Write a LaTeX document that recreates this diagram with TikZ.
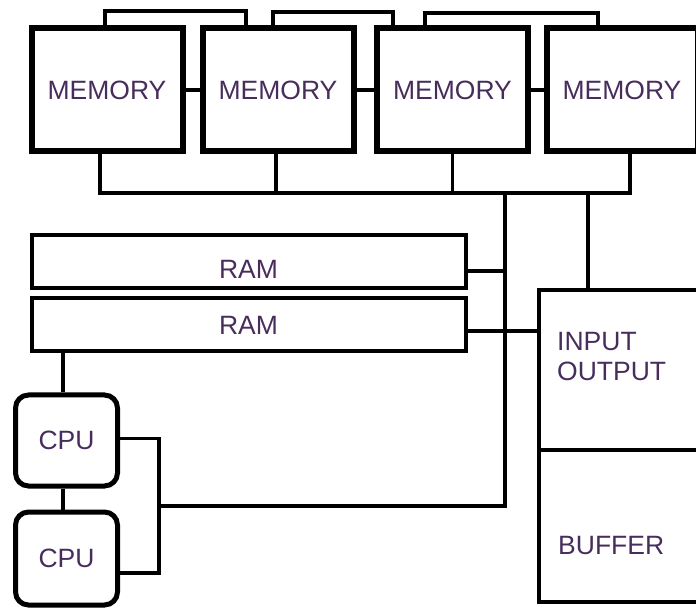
\documentclass[tikz,border=0pt]{standalone}
\usepackage{fontspec}
\setmainfont{Liberation Sans}
\definecolor{txtc}{RGB}{72,45,92}
\begin{document}
\begin{tikzpicture}[x=1pt,y=-1pt,
  txt/.style={text=txtc,font=\fontsize{26.5}{30}\selectfont,inner sep=0pt},
  mem/.style={draw,line width=6pt,minimum width=151pt,minimum height=123pt,inner sep=0pt,txt},
  ram/.style={draw,line width=4pt,minimum width=434pt,minimum height=53pt,inner sep=0pt},
  iob/.style={draw,line width=4pt,minimum width=222pt,inner sep=0pt},
  cpu/.style={draw,line width=5pt,rounded corners=13pt,minimum width=102pt,inner sep=0pt,txt},
  wire/.style={line width=3.5pt}
]
\useasboundingbox (0,0) rectangle (696,609);
% memory boxes
\node[mem] (m1) at (107,90) {MEMORY};
\node[mem] (m2) at (278,90) {MEMORY};
\node[mem] (m3) at (452.5,90) {MEMORY};
\node[mem] (m4) at (622,90) {MEMORY};
% ram boxes
\node[ram] (r1) at (248.5,261.5) {};
\node[txt] at ([yshift=-8pt]r1.center) {RAM};
\node[ram] (r2) at (248.5,325) {};
\node[txt] at (r2.center) {RAM};
% io / buffer
\node[iob,minimum height=160pt] (io) at (650,370) {};
\node[iob,minimum height=152pt] (buf) at (650,526) {};
\node[txt,anchor=west,align=left] at ([xshift=20pt,yshift=13pt]io.west) {INPUT\\OUTPUT};
\node[txt,anchor=west] at ([xshift=21pt,yshift=-20pt]buf.west) {BUFFER};
% cpus
\node[cpu,minimum height=91pt] (c1) at (66.5,440.5) {CPU};
\node[cpu,minimum height=93pt] (c2) at (66.5,558.5) {CPU};

% top brackets
\coordinate (t1) at (0,11);
\coordinate (t2) at (0,12);
\coordinate (t3) at (0,13);
\coordinate (a1) at ([xshift=-2pt]m1.north);
\coordinate (a2) at ([xshift=-32pt]m2.north);
\coordinate (a3) at ([xshift=-5pt]m2.north);
\coordinate (a4) at ([xshift=-59.5pt]m3.north);
\coordinate (a5) at ([xshift=-27.5pt]m3.north);
\coordinate (a6) at ([xshift=-24pt]m4.north);
\draw[wire] (a1) -- (a1|-t1) -- (a2|-t1) -- (a2);
\draw[wire] (a3) -- (a3|-t2) -- (a4|-t2) -- (a4);
\draw[wire] (a5) -- (a5|-t3) -- (a6|-t3) -- (a6);
% side links
\draw[wire] (m1) -- (m2);
\draw[wire] (m2) -- (m3);
\draw[wire] (m3) -- (m4);
% bottom bus
\coordinate (bus) at (0,193);
\coordinate (s1) at ([xshift=-7pt]m1.south);
\coordinate (s2) at ([xshift=-2pt]m2.south);
\coordinate (s3) at (m3.south);
\coordinate (s4) at ([xshift=8pt]m4.south);
\draw[wire] (s1) -- (s1|-bus) -- (s4|-bus) -- (s4);
\draw[wire] (s2) -- (s2|-bus);
\draw[wire] (s3) -- (s3|-bus);
% verticals from bus
\coordinate (vt) at (505,193);
\coordinate (vt2) at (588,193);
\draw[wire] (vt2) -- (vt2|-io.north);
% ram links
\coordinate (e1) at ([yshift=-9.5pt]r1.east);
\coordinate (e2) at ([yshift=-6pt]r2.east);
\draw[wire] (e1) -- (e1-|vt);
\draw[wire] (e2) -- (e2-|io.west);
% cpu links
\coordinate (k1) at ([xshift=-3.5pt]c1.north);
\draw[wire] (k1) -- (k1|-r2.south);
\draw[wire] ([xshift=-3.5pt]c1.south) -- ([xshift=-3.5pt]c2.north);
\coordinate (q1) at ([yshift=2pt]c1.east);
\coordinate (q2) at ([yshift=-14.5pt]c2.east);
\coordinate (jx) at (159,506);
\draw[wire] (q1) -- (q1-|jx) -- (q2-|jx) -- (q2);
\draw[wire] (jx) -- (jx-|vt) -- (vt);
\end{tikzpicture}
\end{document}
